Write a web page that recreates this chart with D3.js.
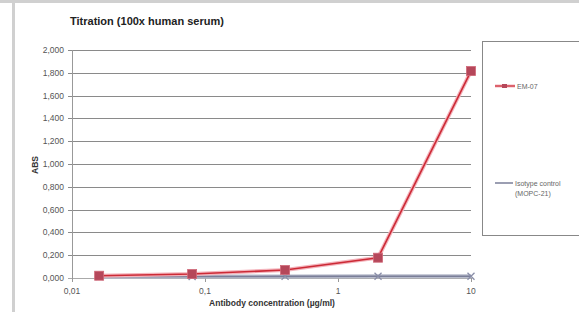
<!DOCTYPE html>
<html>
<head>
<meta charset="utf-8">
<script src="https://cdn.jsdelivr.net/npm/d3@7"></script>
<style>
  body { margin: 0; background: #fff; }
  text { font-family: "Liberation Sans", Arial, sans-serif; }
</style>
</head>
<body>
<div id="chart"></div>
<script>
// antibody concentrations (ug/ml), 5-fold dilutions
var conc = [0.016, 0.08, 0.4, 2, 10];
var em07 = [0.020, 0.035, 0.070, 0.178, 1.815];
var isotype = [0.012, 0.013, 0.014, 0.015, 0.016];
var yTicks = [0, 0.2, 0.4, 0.6, 0.8, 1.0, 1.2, 1.4, 1.6, 1.8, 2.0];
var xTicks = [0.01, 0.1, 1, 10];
var xTickLabels = ["0,01", "0,1", "1", "10"];

var w = 579, h = 312;

var svg = d3.select("#chart")
  .append("svg")
  .attr("width", w)
  .attr("height", h);

// page frame (grey bars top and left)
svg.append("rect").attr("x", 0).attr("y", 0).attr("width", w).attr("height", 3).attr("fill", "#d0d0d0");
svg.append("rect").attr("x", 12).attr("y", 0).attr("width", 3).attr("height", h).attr("fill", "#d0d0d0");

var x = d3.scaleLog()
  .domain([0.01, 10])
  .range([72, 471]);

var y = d3.scaleLinear()
  .domain([0, 2])
  .range([278, 50]);

// gridlines
svg.append("g")
  .selectAll("line")
  .data(yTicks)
  .enter()
  .append("line")
  .attr("x1", 68)
  .attr("x2", 471)
  .attr("y1", function(d) { return Math.round(y(d)) + 0.5; })
  .attr("y2", function(d) { return Math.round(y(d)) + 0.5; })
  .attr("stroke", function(d) { return d === 0 ? "#aaa" : "#8a8a8a"; })
  .attr("stroke-width", 1);

// y axis line
svg.append("line")
  .attr("x1", 72.5).attr("x2", 72.5)
  .attr("y1", y(2)).attr("y2", y(0))
  .attr("stroke", "#999");

// x ticks
svg.append("g")
  .selectAll("line")
  .data(xTicks)
  .enter()
  .append("line")
  .attr("x1", function(d) { return Math.round(x(d)) + 0.5; })
  .attr("x2", function(d) { return Math.round(x(d)) + 0.5; })
  .attr("y1", 278).attr("y2", 282)
  .attr("stroke", "#999");

// y tick labels
svg.append("g")
  .selectAll("text")
  .data(yTicks)
  .enter()
  .append("text")
  .attr("x", 64)
  .attr("y", function(d) { return y(d) + 3; })
  .attr("text-anchor", "end")
  .attr("font-size", 8.5)
  .attr("fill", "#555")
  .text(function(d) { return d3.format(".3f")(d).replace(".", ","); });

// x tick labels
svg.append("g")
  .selectAll("text")
  .data(xTicks)
  .enter()
  .append("text")
  .attr("x", function(d) { return x(d); })
  .attr("y", 294)
  .attr("text-anchor", "middle")
  .attr("font-size", 8.5)
  .attr("fill", "#555")
  .text(function(d, i) { return xTickLabels[i]; });

// titles
svg.append("text")
  .attr("x", 70).attr("y", 25)
  .attr("font-size", 11)
  .attr("font-weight", "bold")
  .attr("fill", "#222")
  .text("Titration (100x human serum)");

svg.append("text")
  .attr("transform", "translate(38,165) rotate(-90)")
  .attr("text-anchor", "middle")
  .attr("font-size", 8.5)
  .attr("font-weight", "bold")
  .attr("fill", "#333")
  .text("ABS");

svg.append("text")
  .attr("x", 272).attr("y", 306)
  .attr("text-anchor", "middle")
  .attr("font-size", 8.5)
  .attr("font-weight", "bold")
  .attr("fill", "#333")
  .text("Antibody concentration (\u00b5g/ml)");

var line = d3.line()
  .x(function(d) { return x(d[0]); })
  .y(function(d) { return y(d[1]); });

var isoData = d3.zip(conc, isotype);
var emData = d3.zip(conc, em07);

// isotype control series
svg.append("path")
  .datum(isoData)
  .attr("d", line)
  .attr("fill", "none")
  .attr("stroke", "#b8bccc")
  .attr("stroke-width", 4);
svg.append("path")
  .datum(isoData)
  .attr("d", line)
  .attr("fill", "none")
  .attr("stroke", "#7a7e98")
  .attr("stroke-width", 1.6);
svg.append("g")
  .selectAll("path")
  .data(isoData)
  .enter()
  .append("path")
  .attr("d", function(d) {
    var cx = x(d[0]), cy = y(d[1]), s = 3.5;
    return "M" + (cx - s) + "," + (cy - s) + "L" + (cx + s) + "," + (cy + s) +
      "M" + (cx - s) + "," + (cy + s) + "L" + (cx + s) + "," + (cy - s);
  })
  .attr("stroke", "#8a8ea8")
  .attr("stroke-width", 1.3);

// EM-07 series
svg.append("path")
  .datum(emData)
  .attr("d", line)
  .attr("fill", "none")
  .attr("stroke", "#f4b4bc")
  .attr("stroke-width", 4);
svg.append("path")
  .datum(emData)
  .attr("d", line)
  .attr("fill", "none")
  .attr("stroke", "#cc2a36")
  .attr("stroke-width", 1.6);
svg.append("g")
  .selectAll("rect")
  .data(emData)
  .enter()
  .append("rect")
  .attr("x", function(d) { return x(d[0]) - 4.5; })
  .attr("y", function(d) { return y(d[1]) - 4.5; })
  .attr("width", 9)
  .attr("height", 9)
  .attr("fill", "#b5475a")
  .attr("stroke", "#d06878")
  .attr("stroke-width", 0.8);

// legend
svg.append("rect")
  .attr("x", 482.5).attr("y", 41.5)
  .attr("width", 110).attr("height", 194)
  .attr("fill", "#fff")
  .attr("stroke", "#888");

svg.append("line")
  .attr("x1", 495).attr("x2", 515).attr("y1", 86).attr("y2", 86)
  .attr("stroke", "#f4b4bc").attr("stroke-width", 3);
svg.append("line")
  .attr("x1", 495).attr("x2", 515).attr("y1", 86).attr("y2", 86)
  .attr("stroke", "#cc2a36").attr("stroke-width", 1.2);
svg.append("rect")
  .attr("x", 502).attr("y", 84).attr("width", 5).attr("height", 4)
  .attr("fill", "#b5475a");
svg.append("text")
  .attr("x", 517).attr("y", 89)
  .attr("font-size", 7)
  .attr("fill", "#666")
  .text("EM-07");

svg.append("line")
  .attr("x1", 495).attr("x2", 513).attr("y1", 183).attr("y2", 183)
  .attr("stroke", "#7a7e98").attr("stroke-width", 1.5);
svg.append("text")
  .attr("x", 515).attr("y", 186)
  .attr("font-size", 7)
  .attr("fill", "#666")
  .text("Isotype control");
svg.append("text")
  .attr("x", 515).attr("y", 196)
  .attr("font-size", 7)
  .attr("fill", "#666")
  .text("(MOPC-21)");
</script>
</body>
</html>
